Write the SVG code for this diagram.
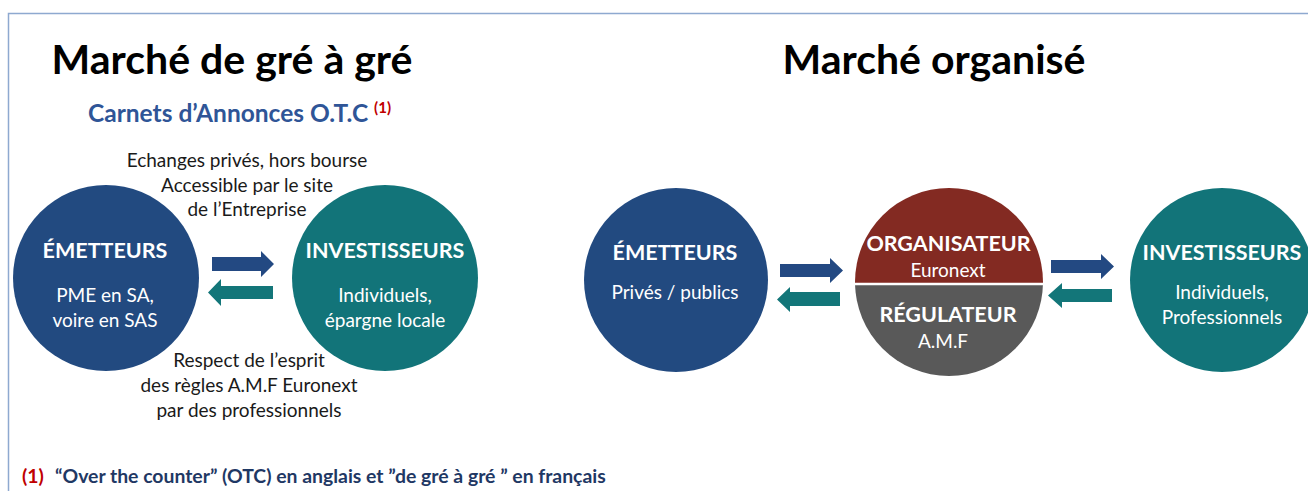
<svg xmlns="http://www.w3.org/2000/svg" width="1308" height="491" viewBox="0 0 1308 491">
<style>
  text { font-family: Lato, "Liberation Sans", sans-serif; }
  .title { font-size: 41px; font-weight: bold; fill: #000; text-anchor: middle; }
  .sub { font-size: 24.5px; font-weight: bold; fill: #2F5597; }
  .note { font-size: 19px; fill: #1a1a1a; text-anchor: middle; }
  .lbl { font-size: 21.5px; font-weight: bold; fill: #fff; text-anchor: middle; }
  .det { font-size: 19px; fill: #fff; text-anchor: middle; }
  .blue { fill: #224A80; }
  .teal { fill: #127479; }
  .ablue { fill: #234982; }
  .ateal { fill: #137679; }
  .foot { font-size: 19.4px; font-weight: bold; fill: #1F3864; }
  .red { fill: #C00000; }
</style>
<defs>
  <clipPath id="topHalf"><rect x="850" y="180" width="200" height="104"/></clipPath>
  <clipPath id="botHalf"><rect x="850" y="284" width="200" height="100"/></clipPath>
</defs>
<rect x="0" y="0" width="1308" height="491" fill="#fff"/>
<path d="M8.5 491 V13.5 H1308" fill="none" stroke="#8EA9D0" stroke-width="1.5"/>

<text class="title" x="232" y="74">Marché de gré à gré</text>
<text class="title" x="934" y="74">Marché organisé</text>
<text class="sub" x="88" y="122">Carnets d’Annonces O.T.C <tspan class="red" font-size="15" dy="-9">(1)</tspan></text>

<g id="note-top">
  <text class="note" x="247" y="167">Echanges privés, hors bourse</text>
  <text class="note" x="247" y="192">Accessible par le site</text>
  <text class="note" x="247" y="216">de l’Entreprise</text>
</g>
<g id="note-bottom">
  <text class="note" x="249" y="367">Respect de l’esprit</text>
  <text class="note" x="249" y="392">des règles A.M.F Euronext</text>
  <text class="note" x="249" y="417">par des professionnels</text>
</g>

<g id="otc-emetteurs">
  <circle class="blue" cx="106" cy="278" r="93"/>
  <text class="lbl" x="105" y="258">ÉMETTEURS</text>
  <text class="det" x="105" y="302">PME en SA,</text>
  <text class="det" x="105" y="327">voire en SAS</text>
</g>
<g id="otc-investisseurs">
  <circle class="teal" cx="385" cy="278" r="93"/>
  <text class="lbl" x="385" y="258">INVESTISSEURS</text>
  <text class="det" x="385" y="302">Individuels,</text>
  <text class="det" x="385" y="327">épargne locale</text>
</g>
<g id="org-emetteurs">
  <circle class="blue" cx="676" cy="280" r="92"/>
  <text class="lbl" x="675" y="260">ÉMETTEURS</text>
  <text class="det" x="675" y="299">Privés / publics</text>
</g>
<g id="org-centre">
  <circle cx="949" cy="282" r="94" fill="#832A22" clip-path="url(#topHalf)"/>
  <circle cx="949" cy="282" r="94" fill="#595959" clip-path="url(#botHalf)"/>
  <line x1="850" y1="284" x2="1050" y2="284" stroke="#fff" stroke-width="2.5"/>
  <text class="lbl" x="948.5" y="251">ORGANISATEUR</text>
  <text class="det" x="948" y="277" font-size="20">Euronext</text>
  <text class="lbl" x="948" y="322">RÉGULATEUR</text>
  <text class="det" x="943" y="348">A.M.F</text>
</g>
<g id="org-investisseurs">
  <circle class="teal" cx="1222" cy="280" r="92"/>
  <text class="lbl" x="1222" y="260">INVESTISSEURS</text>
  <text class="det" x="1222" y="299">Individuels,</text>
  <text class="det" x="1222" y="324">Professionnels</text>
</g>

<g id="connectors">
  <polygon class="ablue" points="212,257 261,257 261,251 274,264 261,277 261,271 212,271"/>
  <polygon class="ateal" points="273,286 221,286 221,279 208,292.5 221,306 221,299 273,299"/>
  <polygon class="ablue" points="780,264 830,264 830,258 843,270.5 830,283 830,277 780,277"/>
  <polygon class="ateal" points="840,292 790,292 790,287 777,299.5 790,312 790,306 840,306"/>
  <polygon class="ablue" points="1051,260 1101,260 1101,254 1114,266.5 1101,279 1101,273 1051,273"/>
  <polygon class="ateal" points="1112,289 1062,289 1062,283 1048,295.5 1062,308 1062,302 1112,302"/>
</g>

<g id="footnote">
  <text class="foot" x="22" y="483"><tspan class="red">(1)</tspan><tspan x="55">“Over the counter” (OTC) en anglais et ”de gré à gré ” en français</tspan></text>
</g>
</svg>
